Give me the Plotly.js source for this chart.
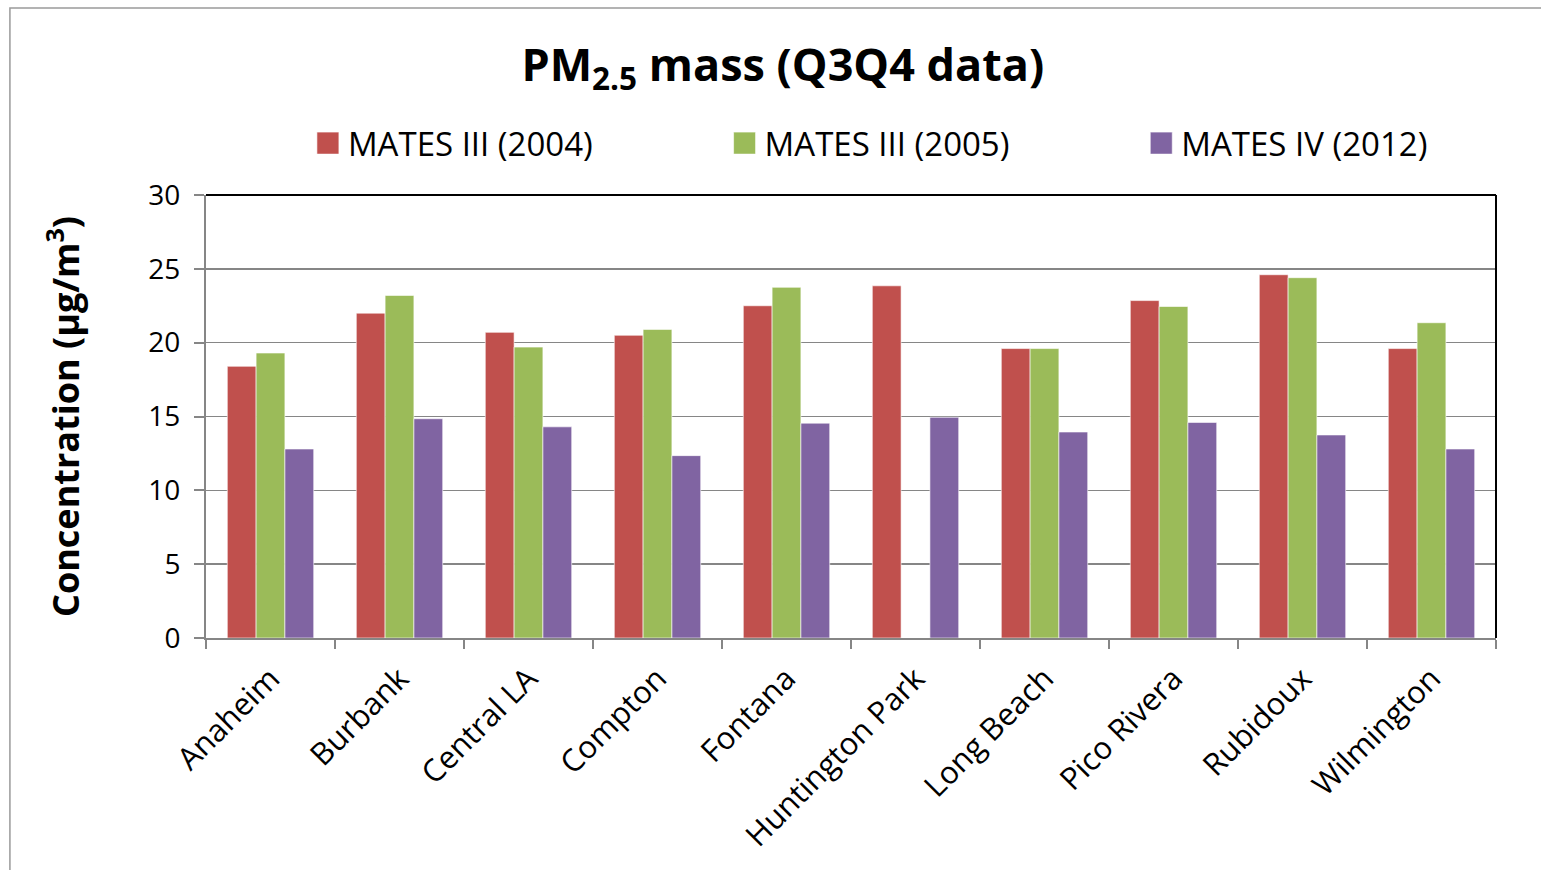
<!DOCTYPE html>
<html>
<head>
<meta charset="utf-8">
<script src="https://cdn.plot.ly/plotly-3.0.1.min.js"></script>
<style>
  html, body { margin: 0; padding: 0; background: #fff; }
  #chart { width: 1541px; height: 870px; }
</style>
</head>
<body>
<div id="chart"></div>
<script>
// sites
const sites = ['Anaheim', 'Burbank', 'Central LA', 'Compton', 'Fontana',
  'Huntington Park', 'Long Beach', 'Pico Rivera', 'Rubidoux', 'Wilmington'];

// PM2.5 mass, ug/m3
const mates3_2004 = [18.4, 22.0, 20.7, 20.5, 22.5, 23.85, 19.6, 22.85, 24.6, 19.6];
const mates3_2005 = [19.3, 23.2, 19.7, 20.9, 23.75, null, 19.6, 22.45, 24.4, 21.35];
const mates4_2012 = [12.8, 14.85, 14.3, 12.35, 14.55, 14.95, 13.95, 14.6, 13.75, 12.8];

const names = ['MATES III (2004)', 'MATES III (2005)', 'MATES IV (2012)'];
const colors = ['#C0504D', '#9BBB59', '#8064A2'];
const legendIds = ['legend', 'legend2', 'legend3'];

const data = [mates3_2004, mates3_2005, mates4_2012].map((vals, i) => ({
  type: 'bar',
  x: sites,
  y: vals,
  name: names[i],
  legend: legendIds[i],
  showlegend: true,
  marker: {color: colors[i], line: {color: 'rgba(255,255,255,0.6)', width: 1}}
}));

const font = 'Open Sans, Liberation Sans, sans-serif';

// one legend box per series so the spacing follows the original
const legendBox = x => ({
  visible: true,
  orientation: 'h',
  x: x, xanchor: 'left',
  y: 1.117, yanchor: 'middle',
  font: {family: font, size: 33, color: '#000'},
  bgcolor: 'rgba(0,0,0,0)'
});

const layout = {
  width: 1541,
  height: 870,
  showlegend: true,
  paper_bgcolor: '#fff',
  plot_bgcolor: '#fff',
  font: {family: font, color: '#000'},
  margin: {l: 206, r: 45, t: 195, b: 232},
  barmode: 'group',
  bargap: 0.33,
  bargroupgap: 0,
  title: {
    text: '<b>PM<sub>2.5</sub> mass (Q3Q4 data)</b>',
    font: {family: font, size: 45, color: '#000'},
    x: 0.508, xanchor: 'center',
    y: 0.925, yanchor: 'middle'
  },
  legend: legendBox(0.079),
  legend2: legendBox(0.402),
  legend3: legendBox(0.725),
  xaxis: {
    type: 'category',
    showline: true, linecolor: '#868686', linewidth: 2,
    ticks: 'outside', tickson: 'boundaries', ticklen: 9, tickcolor: '#868686', tickwidth: 2,
    tickangle: -45,
    ticklabelstandoff: 8,
    tickfont: {family: font, size: 31, color: '#000'},
    showgrid: false
  },
  yaxis: {
    range: [0, 30],
    dtick: 5,
    showline: true, linecolor: '#868686', linewidth: 2,
    ticks: 'outside', ticklen: 10, tickcolor: '#868686', tickwidth: 2,
    ticklabelstandoff: 8,
    showgrid: true, gridcolor: '#868686', gridwidth: 1.5,
    zeroline: false,
    tickfont: {family: font, size: 28, color: '#000'},
    title: {
      text: '<b>Concentration (µg/m<sup>3</sup>)</b>',
      font: {family: font, size: 36, color: '#000'},
      standoff: 58
    }
  },
  shapes: [
    // plot frame top and right
    {type: 'line', xref: 'paper', yref: 'paper', x0: 0, x1: 1, y0: 1, y1: 1,
      line: {color: '#000', width: 2}},
    {type: 'line', xref: 'paper', yref: 'paper', x0: 1, x1: 1, y0: 0, y1: 1,
      line: {color: '#000', width: 2}},
    // outer chart border
    {type: 'rect', xref: 'paper', yref: 'paper', x0: -0.152, x1: 1.05, y0: -0.55, y1: 1.422,
      line: {color: '#9a9a9a', width: 1.5}, layer: 'below'}
  ]
};

Plotly.newPlot('chart', data, layout, {displayModeBar: false, staticPlot: true}).then(gd => {
  // bigger square legend swatches, like the original
  gd.querySelectorAll('.legendpoints path').forEach(p => {
    p.setAttribute('d', 'M11,11H-11V-11H11Z');
  });
});
</script>
</body>
</html>
